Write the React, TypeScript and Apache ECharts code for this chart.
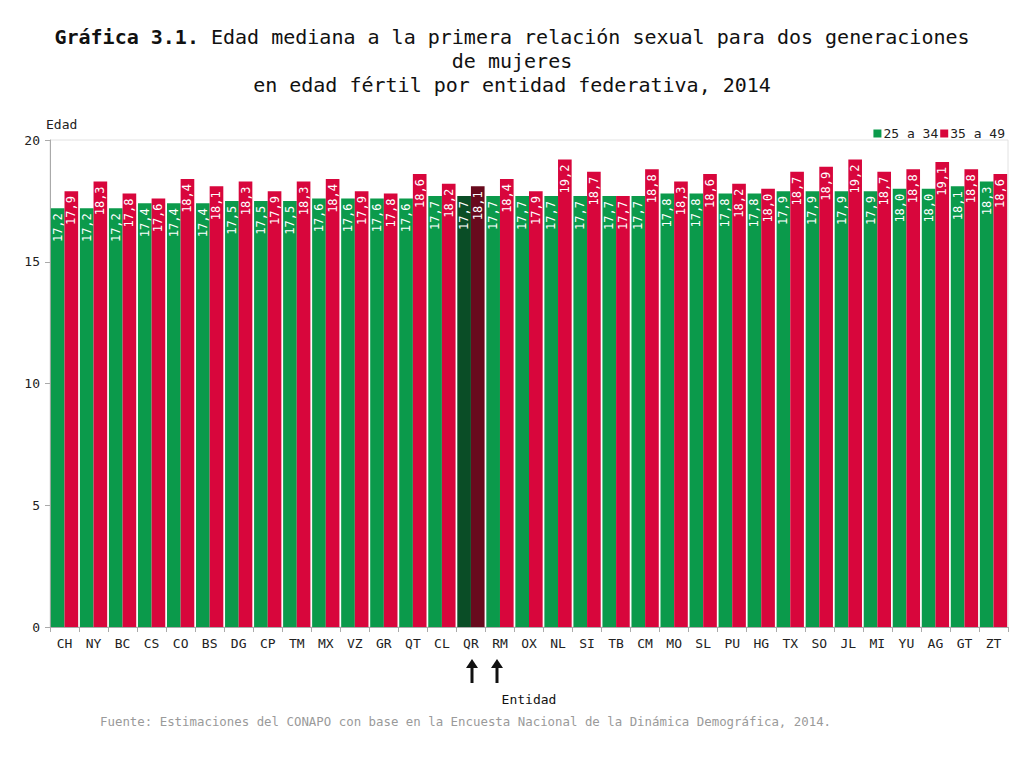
import { useEffect, useRef } from "react";
import * as echarts from "echarts";

const entidades = [
  "CH", "NY", "BC", "CS", "CO", "BS", "DG", "CP", "TM", "MX", "VZ", "GR", "QT", "CL", "QR", "RM", "OX",
  "NL", "SI", "TB", "CM", "MO", "SL", "PU", "HG", "TX", "SO", "JL", "MI", "YU", "AG", "GT", "ZT",
];
const gen25a34 = [
  17.2, 17.2, 17.2, 17.4, 17.4, 17.4, 17.5, 17.5, 17.5, 17.6, 17.6, 17.6, 17.6, 17.7, 17.7, 17.7, 17.7,
  17.7, 17.7, 17.7, 17.7, 17.8, 17.8, 17.8, 17.8, 17.9, 17.9, 17.9, 17.9, 18.0, 18.0, 18.1, 18.3,
];
const gen35a49 = [
  17.9, 18.3, 17.8, 17.6, 18.4, 18.1, 18.3, 17.9, 18.3, 18.4, 17.9, 17.8, 18.6, 18.2, 18.1, 18.4, 17.9,
  19.2, 18.7, 17.7, 18.8, 18.3, 18.6, 18.2, 18.0, 18.7, 18.9, 19.2, 18.7, 18.8, 19.1, 18.8, 18.6,
];
const yTicks = [0, 5, 10, 15, 20];
const destacada = "QR";

const MONO = "'DejaVu Sans Mono', monospace";
const GREEN = "#0b9a4b";
const RED = "#d8063c";

export default function App() {
  const ref = useRef<HTMLDivElement>(null);

  useEffect(() => {
    if (!ref.current) return;
    const chart = echarts.init(ref.current, null, { renderer: "svg" });

    const mkData = (vals: number[], dark: string) =>
      vals.map((v, i) => ({
        value: v,
        itemStyle: entidades[i] === destacada ? { color: dark } : undefined,
      }));

    const label = {
      show: true,
      position: "insideTop",
      rotate: 90,
      align: "right",
      verticalAlign: "middle",
      distance: 5,
      color: "#fff",
      fontFamily: MONO,
      fontSize: 12,
      formatter: (p: any) => p.value.toFixed(1).replace(".", ","),
    };

    // flechas bajo QR y RM
    const arrow = (x: number) => ({
      type: "group",
      children: [
        { type: "line", shape: { x1: x, y1: 668, x2: x, y2: 683 }, style: { stroke: "#111", lineWidth: 3 } },
        { type: "polygon", shape: { points: [[x - 6, 668], [x, 659], [x + 6, 668]] }, style: { fill: "#111" } },
      ],
    });

    chart.setOption({
      animation: false,
      backgroundColor: "#fff",
      title: {
        left: "center",
        top: 20,
        text: "{b|Gráfica 3.1.} Edad mediana a la primera relación sexual para dos generaciones\nde mujeres\nen edad fértil por entidad federativa, 2014",
        textStyle: {
          fontFamily: MONO,
          fontSize: 20,
          fontWeight: "normal",
          color: "#111",
          lineHeight: 24,
          rich: { b: { fontFamily: MONO, fontSize: 20, fontWeight: "bold", color: "#111" } },
        },
      },
      legend: {
        right: 14,
        top: 122,
        itemWidth: 8,
        itemHeight: 8,
        itemGap: 2,
        icon: "rect",
        textStyle: { fontFamily: MONO, fontSize: 13, color: "#222", padding: [0, 0, 0, -3] },
        data: ["25 a 34", "35 a 49"],
      },
      grid: {
        left: 50,
        right: 16,
        top: 140,
        bottom: 141,
        show: true,
        borderColor: "#e2e2e2",
        borderWidth: 1,
      },
      xAxis: {
        type: "category",
        data: entidades,
        name: "Entidad",
        nameLocation: "middle",
        nameGap: 66,
        nameTextStyle: { fontFamily: MONO, fontSize: 13, color: "#111" },
        axisLine: { lineStyle: { color: "#aaa" } },
        axisTick: { show: true, length: 5, lineStyle: { color: "#aaa" } },
        axisLabel: { fontFamily: MONO, fontSize: 13, color: "#222", margin: 10 },
      },
      yAxis: {
        type: "value",
        min: yTicks[0],
        max: yTicks[yTicks.length - 1],
        interval: 5,
        name: "Edad",
        nameLocation: "end",
        nameGap: 9,
        nameTextStyle: { fontFamily: MONO, fontSize: 13, color: "#222", align: "left", padding: [0, 0, 0, -4] },
        axisLine: { show: true, lineStyle: { color: "#aaa" } },
        axisTick: { show: true, length: 5, lineStyle: { color: "#aaa" } },
        axisLabel: { fontFamily: MONO, fontSize: 13, color: "#222", margin: 10 },
        splitLine: { show: false },
      },
      series: [
        {
          name: "25 a 34",
          type: "bar",
          data: mkData(gen25a34, "#0a4d26"),
          itemStyle: { color: GREEN },
          barGap: "0%",
          barCategoryGap: "6%",
          label,
        },
        {
          name: "35 a 49",
          type: "bar",
          data: mkData(gen35a49, "#680a1d"),
          itemStyle: { color: RED },
          label,
        },
      ],
      graphic: [
        arrow(472),
        arrow(497),
        {
          type: "text",
          left: 100,
          top: 715,
          style: {
            text: "Fuente: Estimaciones del CONAPO con base en la Encuesta Nacional de la Dinámica Demográfica, 2014.",
            font: `12.4px ${MONO}`,
            fill: "#9a9a9a",
          },
        },
      ],
    });

    return () => chart.dispose();
  }, []);

  return (
    <div
      ref={ref}
      style={{ position: "fixed", left: 0, top: 0, width: 1024, height: 768, background: "#fff" }}
    />
  );
}
